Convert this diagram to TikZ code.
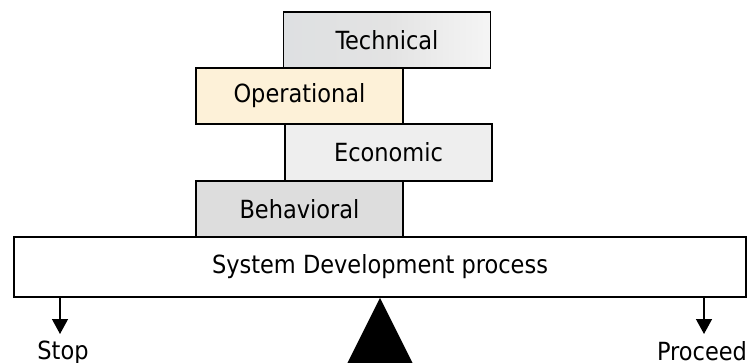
\documentclass[tikz,border=0pt]{standalone}
\usepackage{fontspec}
\setmainfont{DejaVu Sans Condensed}
\usepackage{tikz}
\usetikzlibrary{arrows.meta}

\definecolor{marble}{RGB}{222,224,226}
\definecolor{cream}{RGB}{253,241,216}
\definecolor{speckle}{RGB}{238,238,238}
\definecolor{plaingray}{RGB}{221,221,221}

\tikzset{
  layer/.style = {draw, line width=1.6pt, minimum width=207pt, minimum height=56pt,
                  inner sep=0pt, font=\fontsize{25}{29}\selectfont},
  outcome/.style = {inner sep=0pt, anchor=north, font=\fontsize{25}{29}\selectfont},
  drop/.style = {line width=1.4pt, -{Triangle[width=16pt,length=15pt]}}
}

\begin{document}
\begin{tikzpicture}[x=1pt, y=-1pt]
  \useasboundingbox (0,0) rectangle (749,363);
  % the four feasibility blocks
  \node[layer, left color=marble, right color=gray!8, middle color=gray!22] (tech) at (387,40) {Technical};
  \node[layer, fill=cream] (oper) at (299.5,96) {Operational};
  \node[layer, fill=speckle, minimum height=57pt] (econ) at (388.5,152.5) {Economic};
  \node[layer, fill=plaingray] (behav) at (299.5,209) {Behavioral};
  % the beam
  \node[layer, fill=white, minimum width=732pt, minimum height=60pt] (sys) at (380,267) {System Development process};
  % the two ends
  \node[outcome] (stop) at (63,341) {Stop};
  \node[outcome] (proceed) at (702,341) {Proceed};
  \coordinate (stopend) at (60,334);
  \coordinate (goend) at (704,334);
  \draw[drop] (sys.south -| stopend) -- (stopend);
  \draw[drop] (sys.south -| goend) -- (goend);
  % fulcrum
  \fill (sys.south) -- ++(-33,66) -- ++(66,0) -- cycle;
\end{tikzpicture}
\end{document}
